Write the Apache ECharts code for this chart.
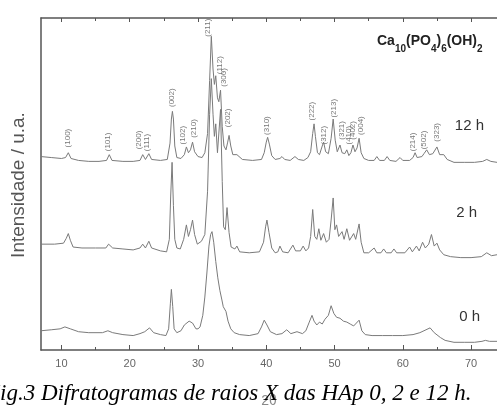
<!DOCTYPE html>
<html>
<head>
<meta charset="utf-8">
<script src="https://cdn.jsdelivr.net/npm/echarts@6/dist/echarts.min.js"></script>
<style>
  html, body { margin: 0; padding: 0; background: #fff; }
  #chart { width: 497px; height: 413px; }
</style>
</head>
<body>
<div id="chart"></div>
<script>
// ticks do eixo 2θ
var majorTicks = [10, 20, 30, 40, 50, 60, 70];
var minorTicks = [15, 25, 35, 45, 55, 65];

// difratogramas [2θ, intensidade deslocada]
var pattern12h = [
  [7.0,201],[8.5,200],[10.0,199],[10.6,200],[11.0,205],[11.4,199],[12.5,197],[14.0,196],[15.5,196],
  [16.6,197],[17.0,203],[17.4,197],[19.0,196],[20.5,196],[21.5,197],[21.9,203],[22.3,198],[22.8,204],
  [23.2,198],[24.5,197],[25.5,198],[25.9,215],[26.1,240],[26.25,248],[26.4,240],[26.6,212],[26.9,200],
  [27.5,199],[28.0,203],[28.3,211],[28.6,205],[28.9,208],[29.2,216],[29.5,206],[30.0,201],[30.6,200],
  [31.0,205],[31.4,225],[31.7,280],[31.95,326],[32.2,292],[32.4,276],[32.6,285],[32.85,262],[33.05,258],
  [33.3,270],[33.55,232],[33.8,212],[34.1,208],[34.35,216],[34.55,223],[34.8,212],[35.1,203],[35.7,203],
  [36.5,198],[38.0,197],[39.3,198],[39.7,205],[40.0,216],[40.2,221],[40.45,214],[40.8,202],[41.3,198],
  [42.0,199],[42.3,201],[42.7,198],[43.5,197],[44.2,201],[44.7,198],[45.5,197],[46.1,200],[46.5,206],
  [46.8,225],[47.0,235],[47.2,222],[47.5,205],[47.8,203],[48.2,212],[48.4,216],[48.7,206],[49.1,204],
  [49.5,220],[49.8,240],[50.1,218],[50.4,206],[50.8,213],[51.1,205],[51.5,204],[51.8,208],[52.1,202],
  [52.4,205],[52.7,213],[53.0,206],[53.3,210],[53.6,220],[53.9,205],[54.3,199],[55.0,197],[55.8,197],
  [56.2,201],[56.6,197],[57.3,197],[57.7,201],[58.1,197],[59.0,196],[59.6,200],[60.0,197],[61.0,197],
  [61.5,200],[61.8,205],[62.1,200],[62.8,201],[63.1,204],[63.5,208],[63.9,203],[64.4,204],[65.0,211],
  [65.4,203],[66.0,203],[66.5,198],[67.5,195],[69.0,195],[70.5,195],[71.7,196],[72.3,198],[72.9,196],
  [73.8,195]
];

var pattern2h = [
  [7.0,110],[9.0,110],[10.3,111],[10.7,116],[11.0,121],[11.3,114],[11.7,107],[13.0,106],[15.0,106],
  [16.5,106],[16.9,110],[17.1,111],[17.5,106],[19.0,105],[20.5,104],[21.5,106],[21.9,110],[22.3,106],
  [22.8,113],[23.2,106],[24.5,103],[25.4,102],[25.8,115],[26.0,160],[26.2,195],[26.4,150],[26.6,115],
  [26.9,106],[27.4,105],[27.9,115],[28.3,130],[28.6,118],[28.9,125],[29.2,135],[29.5,120],[29.9,110],
  [30.5,113],[31.0,120],[31.4,165],[31.7,245],[31.95,282],[32.2,245],[32.4,222],[32.6,235],[32.85,205],
  [33.05,205],[33.3,250],[33.55,175],[33.75,128],[34.0,125],[34.25,148],[34.55,122],[34.85,107],
  [35.4,105],[35.7,108],[36.1,102],[37.5,101],[39.0,102],[39.6,112],[39.9,128],[40.1,135],[40.4,122],
  [40.8,106],[41.3,101],[41.7,102],[42.0,108],[42.4,102],[43.2,101],[43.9,109],[44.3,103],[45.0,103],
  [45.4,108],[45.8,103],[46.2,106],[46.5,118],[46.8,146],[47.1,118],[47.4,115],[47.7,126],[48.0,114],
  [48.4,121],[48.8,112],[49.2,115],[49.5,135],[49.8,158],[50.05,125],[50.3,130],[50.6,118],[51.1,123],
  [51.4,115],[51.8,126],[52.2,114],[52.8,121],[53.1,115],[53.6,131],[53.9,112],[54.3,101],[55.0,101],
  [55.8,106],[56.2,101],[56.8,101],[57.2,105],[57.6,101],[58.3,101],[58.7,105],[59.1,101],[60.3,101],
  [61.0,107],[61.4,102],[62.0,108],[62.4,103],[62.9,112],[63.3,106],[63.8,110],[64.2,120],[64.6,108],
  [65.0,111],[65.4,104],[66.0,99],[67.0,97],[68.5,96],[70.0,96],[71.5,97],[72.3,101],[73.0,98],[73.8,99]
];

var pattern0h = [
  [7.0,20],[8.5,21],[9.8,22],[10.5,24],[11.3,22],[12.5,19],[14.0,18],[16.0,18],[16.8,20],[17.5,18],
  [19.0,16],[20.5,15],[21.5,17],[22.2,19],[22.9,23],[23.5,18],[24.5,16],[25.3,15],[25.7,22],[25.95,48],
  [26.1,63],[26.3,45],[26.5,22],[26.9,18],[27.5,20],[28.0,26],[28.2,27],[28.7,30],[29.2,28],[29.7,22],
  [30.0,22],[30.3,24],[30.7,36],[31.0,55],[31.3,80],[31.6,108],[31.85,120],[32.05,123],[32.3,112],
  [32.6,92],[32.9,75],[33.2,62],[33.5,52],[33.7,45],[33.9,43],[34.1,40],[34.4,30],[34.8,22],[35.3,18],
  [36.1,16],[37.5,15],[38.8,17],[39.3,24],[39.7,31],[40.1,26],[40.6,19],[41.5,16],[42.3,17],[43.0,21],
  [43.6,17],[44.5,19],[45.3,17],[45.8,20],[46.3,29],[46.7,36],[47.0,30],[47.4,26],[47.8,29],[48.2,27],
  [48.6,32],[49.1,36],[49.5,46],[49.9,38],[50.3,34],[50.8,33],[51.3,30],[51.8,29],[52.3,27],[52.8,25],
  [53.2,28],[53.6,31],[54.0,20],[54.5,16],[55.5,15],[57.0,15],[58.5,15],[60.0,15],[61.5,16],[62.5,18],
  [63.4,21],[64.0,23],[64.6,18],[65.5,13],[66.2,10],[67.5,8],[69.0,8],[70.5,8],[71.6,9],[72.1,10],
  [72.7,9],[73.8,9]
];

// índices de Miller (amostra 12 h)
var hklNames = ['(100)','(101)','(200)','(111)','(002)','(102)','(210)','(211)','(112)','(300)','(202)',
  '(310)','(222)','(312)','(213)','(321)','(410)','(402)','(004)','(214)','(502)','(323)'];
var hklTheta = [10.95,16.8,21.35,22.5,26.2,27.9,29.4,31.45,33.2,33.8,34.5,
  40.1,46.7,48.45,49.9,51.2,52.1,52.8,53.85,61.6,63.2,65.0];
var hklY = [210,206,208,206,252,213,220,325,286,273,231,
  223,238,213,241,218,213,218,223,206,208,216];

var sampleNames = ['12 h', '2 h', '0 h'];

var chart = echarts.init(document.getElementById('chart'));

var lineColor = '#7a7a7a';
var axisColor = '#555';
var fontSans = 'Liberation Sans, Arial, sans-serif';

function tickAxis(pos, values, len, withLine, withLabel) {
  return {
    type: 'value', position: pos, min: 7, max: 73.8,
    axisLine: { show: withLine, lineStyle: { color: axisColor, width: 1.5 } },
    axisTick: { show: true, inside: true, length: len, customValues: values,
                lineStyle: { color: axisColor, width: 1 } },
    axisLabel: withLabel ? { show: true, customValues: values, margin: 8, fontSize: 11,
                             color: '#666', fontFamily: fontSans } : { show: false },
    splitLine: { show: false }
  };
}

var xMain = tickAxis('bottom', majorTicks, 5, true, true);
xMain.name = '2θ';
xMain.nameLocation = 'middle';
xMain.nameGap = 44;
xMain.nameTextStyle = { fontSize: 14, color: '#888', fontFamily: fontSans };

var hklData = hklNames.map(function (n, i) { return [hklTheta[i], hklY[i], n]; });

var option = {
  animation: false,
  backgroundColor: '#fff',
  grid: { left: 41, right: 0, top: 18, bottom: 50 },
  xAxis: [
    xMain,
    tickAxis('bottom', minorTicks, 3, false, false),
    tickAxis('top', majorTicks, 4, true, false),
    tickAxis('top', minorTicks, 3, false, false)
  ],
  yAxis: {
    type: 'value', min: 0, max: 345,
    axisLine: { show: true, lineStyle: { color: axisColor, width: 1.5 } },
    axisTick: { show: false }, axisLabel: { show: false }, splitLine: { show: false }
  },
  series: [
    { name: sampleNames[0], type: 'line', data: pattern12h, symbol: 'none',
      lineStyle: { color: lineColor, width: 1 } },
    { name: sampleNames[1], type: 'line', data: pattern2h, symbol: 'none',
      lineStyle: { color: lineColor, width: 1 } },
    { name: sampleNames[2], type: 'line', data: pattern0h, symbol: 'none',
      lineStyle: { color: lineColor, width: 1 } },
    { type: 'scatter', data: hklData, symbolSize: 1, itemStyle: { color: 'transparent' },
      label: { show: true, formatter: function (p) { return p.data[2]; }, rotate: 90,
               position: [0, 0], align: 'left', verticalAlign: 'middle',
               fontSize: 8, color: '#555', fontFamily: fontSans } }
  ],
  graphic: [
    { type: 'text', x: 19, y: 185, rotation: Math.PI / 2,
      style: { text: 'Intensidade / u.a.', fontSize: 19, fill: '#555', fontFamily: fontSans,
               textAlign: 'center', textVerticalAlign: 'middle' } },
    { type: 'text', x: 484, y: 126,
      style: { text: sampleNames[0], fontSize: 15, fill: '#333', fontFamily: fontSans,
               textAlign: 'right', textVerticalAlign: 'middle' } },
    { type: 'text', x: 477, y: 213,
      style: { text: sampleNames[1], fontSize: 15, fill: '#333', fontFamily: fontSans,
               textAlign: 'right', textVerticalAlign: 'middle' } },
    { type: 'text', x: 480, y: 317,
      style: { text: sampleNames[2], fontSize: 15, fill: '#333', fontFamily: fontSans,
               textAlign: 'right', textVerticalAlign: 'middle' } },
    { type: 'text', x: 377, y: 34,
      style: {
        text: '{m|Ca}{s|10}{m|(PO}{s|4}{m|)}{s|6}{m|(OH)}{s|2}',
        fill: '#222',
        rich: {
          m: { fontSize: 14, fontWeight: 'bold', lineHeight: 14, verticalAlign: 'top', fontFamily: fontSans, fill: '#222' },
          s: { fontSize: 10, fontWeight: 'bold', lineHeight: 20, verticalAlign: 'bottom', fontFamily: fontSans, fill: '#222' }
        }
      } },
    { type: 'text', x: -14, y: 394, z: 100,
      style: { text: 'Fig.3 Difratogramas de raios X das HAp 0, 2 e 12 h.', fontSize: 23,
               fontStyle: 'italic', fill: '#000', fontFamily: 'Liberation Serif, Times New Roman, serif',
               textAlign: 'left', textVerticalAlign: 'middle' } }
  ]
};

chart.setOption(option);
</script>
</body>
</html>
